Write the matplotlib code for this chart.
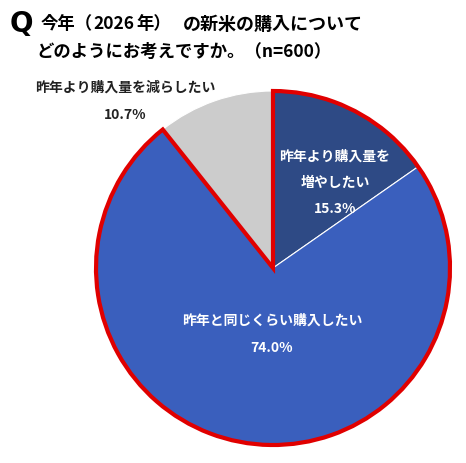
import matplotlib
matplotlib.use("Agg")
import matplotlib.pyplot as plt
from matplotlib.patches import Wedge

plt.rcParams['font.family'] = ['Noto Sans CJK JP', 'DejaVu Sans']

categories = ["昨年より購入量を\n増やしたい", "昨年と同じくらい購入したい", "昨年より購入量を減らしたい"]
values = [15.3, 74.0, 10.7]
colors = ["#2E4A85", "#3A5FBD", "#CCCCCC"]
title_line1_parts = ["今年（", "2026", "年）", "の新米の購入について"]
title_line2 = "どのようにお考えですか。（n=600）"

W, H = 466, 463
fig = plt.figure(figsize=(W / 100, H / 100), dpi=100)
ax = fig.add_axes([0, 0, 1, 1])

cx, cy, r = 273, H - 268, 177
wedges, _ = ax.pie(values, colors=colors, startangle=90, counterclock=False,
                   center=(cx, cy), radius=r, frame=True,
                   wedgeprops=dict(edgecolor="white", linewidth=0.8))

# red outline around the first two slices
total = sum(values)
span = 360 * (values[0] + values[1]) / total
outline = Wedge((cx, cy), r, 90 - span, 90, facecolor="none",
                edgecolor="#E00000", linewidth=3.0, joinstyle="miter")
ax.add_patch(outline)

ax.set_xlim(0, W)
ax.set_ylim(0, H)
ax.set_aspect("equal")
ax.axis("off")

lab = dict(fontsize=10, fontweight="bold", ha="center", va="center")
# labels
ax.text(335, H - 157, "昨年より購入量を", color="white", **lab)
ax.text(335, H - 183, "増やしたい", color="white", **lab)
ax.text(335, H - 209, f"{values[0]:.1f}%", color="white", **lab)

ax.text(272, H - 321, categories[1], color="white", **lab)
ax.text(272, H - 348, f"{values[1]:.1f}%", color="white", **lab)

ax.text(125, H - 88, categories[2], color="#222222", **lab)
ax.text(125, H - 115, f"{values[2]:.1f}%", color="#222222", **lab)

# title
ax.text(10, H - 24, "Q", color="black", fontsize=20, fontweight="bold", ha="left", va="center",
        family=["DejaVu Sans"])
tt = dict(color="black", fontsize=12.5, fontweight="bold", ha="left", va="center")
part_x = [41, 93, 136, 183]
part_fs = [12.5, 12.5, 12.5, 13]
for px, fs, part in zip(part_x, part_fs, title_line1_parts):
    ax.text(px, H - 24, part, **{**tt, "fontsize": fs})
ax.text(36, H - 52, title_line2, **tt)

fig.savefig("out.png", dpi=100)
